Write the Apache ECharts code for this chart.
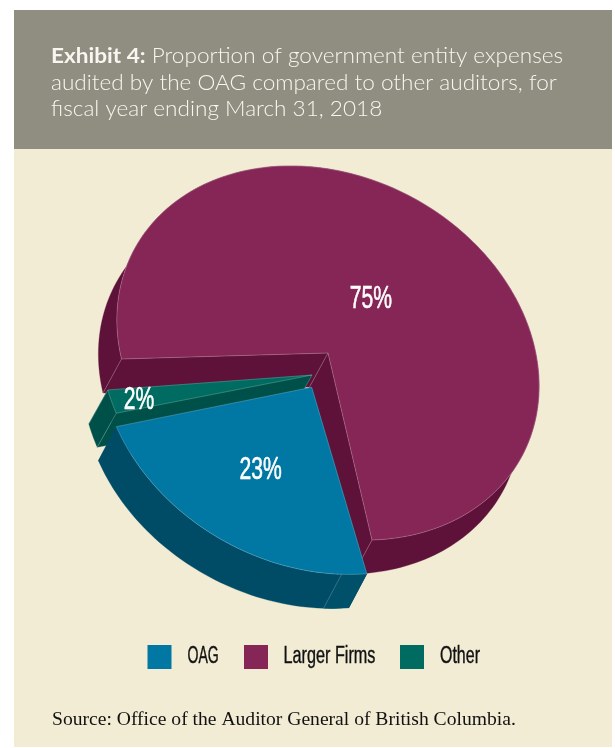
<!DOCTYPE html>
<html>
<head>
<meta charset="utf-8">
<style>html,body{margin:0;padding:0;background:#fff}#chart{width:615px;height:748px}</style>
<script src="https://cdn.jsdelivr.net/npm/echarts@6/dist/echarts.min.js"></script>
</head>
<body>
<div id="chart"></div>
<script>
// Auditor shares of government entity expenses, in percent
const categories = ['OAG', 'Larger Firms', 'Other'];
const shares = [23, 75, 2];
const shareLabels = ['23%', '75%', '2%'];

// Tilted disc: a unit circle mapped through two conjugate radii
const radiusA = [44, 187];
const radiusB = [-206.5, 6];
const DEG = Math.PI / 180;
const degPerPct = 3.6;

// Drawing details per category: hub position, first angle, wall drop, colours, key placement
const look = {
  'OAG': { hub: [311.7, 387.3], start: -3.1, drop: [-18, 34], top: '#0078a3', wall: '#004b66', facet: '#005069', seam: 7, label: [-51, 83], keyX: 147.5, nameX: 187.5, nameScale: 0.6 },
  'Larger Firms': { hub: [328, 353], start: 90, drop: [-18.5, 34], top: '#862657', wall: '#5f1239', label: [43, -54], keyX: 244, nameX: 283.5, nameScale: 0.69 },
  'Other': { hub: [312, 375], start: 80.05, drop: [-19, 34], top: '#006c61', wall: '#00504a', label: [-173, 25], keyX: 400, nameX: 440, nameScale: 0.68 }
};
const seamColor = 'rgba(255,255,255,0.26)';
const sansStack = '"Liberation Sans", Arial, sans-serif';

function rim(hub, deg) {
  const c = Math.cos(deg * DEG), s = Math.sin(deg * DEG);
  return [hub[0] + c * radiusA[0] + s * radiusB[0], hub[1] + c * radiusA[1] + s * radiusB[1]];
}
function arc(hub, from, to) {
  const n = Math.max(2, Math.ceil(Math.abs(to - from) / 1.5));
  const pts = [];
  for (let i = 0; i <= n; i++) pts.push(rim(hub, from + (to - from) * i / n));
  return pts;
}
const shift = (pts, d) => pts.map(p => [p[0] + d[0], p[1] + d[1]]);
const band = (pts, d) => pts.concat(shift(pts, d).reverse());

function renderSlice(params, api) {
  const name = categories[params.seriesIndex];
  const l = look[name];
  const sweep = api.value(0) * degPerPct;
  const from = l.start, to = l.start + sweep;
  const outer = arc(l.hub, from, to);
  const first = rim(l.hub, from), last = rim(l.hub, to);
  const poly = (points, fill) => ({ type: 'polygon', shape: { points }, style: { fill, stroke: fill, lineWidth: 0.3 } });
  const line = points => ({ type: 'polyline', shape: { points }, style: { fill: null, stroke: seamColor, lineWidth: 0.8 } });
  const children = [
    poly(band(outer, l.drop), l.wall),
    poly(band([l.hub, first], l.drop), l.wall),
    poly(band([l.hub, last], l.drop), l.wall)
  ];
  if (l.facet) children.push(poly(band(arc(l.hub, from, from + l.seam), l.drop), l.facet));
  children.push(poly([l.hub].concat(outer), l.top));
  children.push(line([first, l.hub, last]));
  children.push(line(outer));
  // Vertical ridges where the walls meet the top face
  const ridgeAt = l.facet ? [rim(l.hub, from + l.seam)] : [first, last, l.hub];
  ridgeAt.forEach(p => children.push(line([p, [p[0] + l.drop[0], p[1] + l.drop[1]]])));
  children.push({
    type: 'text', z2: 50,
    x: l.hub[0] + l.label[0], y: l.hub[1] + l.label[1], scaleX: 0.66,
    style: {
      text: shareLabels[params.seriesIndex], x: 0, y: 0, align: 'center', verticalAlign: 'middle',
      fill: '#fff', stroke: '#fff', lineWidth: 0.6, font: '32px ' + sansStack
    }
  });
  return { type: 'group', children };
}

const drawOrder = { 'Larger Firms': 1, 'Other': 2, 'OAG': 3 };
const chart = echarts.init(document.getElementById('chart'), null, { renderer: 'canvas' });
chart.setOption({
  animation: false,
  backgroundColor: '#ffffff',
  // One key per category so each swatch can sit at its own position
  legend: categories.map(name => ({
    data: [name],
    left: look[name].keyX, top: 645, padding: 0,
    itemWidth: 24, itemHeight: 24,
    icon: 'rect',
    selectedMode: false,
    formatter: () => ''
  })),
  graphic: [
    { type: 'rect', z: -10, shape: { x: 14, y: 10, width: 598, height: 737 }, style: { fill: '#f2ecd5' } },
    { type: 'rect', z: -9, shape: { x: 14, y: 10, width: 598, height: 139 }, style: { fill: '#8f8e81' } },
    {
      type: 'text', x: 51, y: 83, z: 10, scaleX: 1.05,
      style: {
        text: '{b|Exhibit 4:} Proportion of government entity expenses\naudited by the OAG compared to other auditors, for\nfiscal year ending March 31, 2018',
        fill: '#f7f6f0', font: '300 21.5px Lato, sans-serif', lineHeight: 26.5, verticalAlign: 'middle',
        rich: { b: { font: 'bold 21.5px Lato, sans-serif', fill: '#f7f6f0' } }
      }
    },
    {
      type: 'text', x: 52, y: 720, z: 10,
      style: { text: 'Source: Office of the Auditor General of British Columbia.', fill: '#111', font: '19.6px "Liberation Serif", serif', verticalAlign: 'middle' }
    }
  ].concat(categories.map(name => ({
    type: 'text', x: look[name].nameX, y: 657, z: 10, scaleX: look[name].nameScale,
    style: { text: name, fill: '#111', stroke: '#111', lineWidth: 0.4, font: '23.5px ' + sansStack, verticalAlign: 'middle' }
  }))),
  series: categories.map((name, i) => ({
    name, type: 'custom', coordinateSystem: 'none', z: drawOrder[name] + 1,
    itemStyle: { color: look[name].top },
    renderItem: renderSlice,
    data: [[shares[i]]],
    silent: true
  }))
});
</script>
</body>
</html>
